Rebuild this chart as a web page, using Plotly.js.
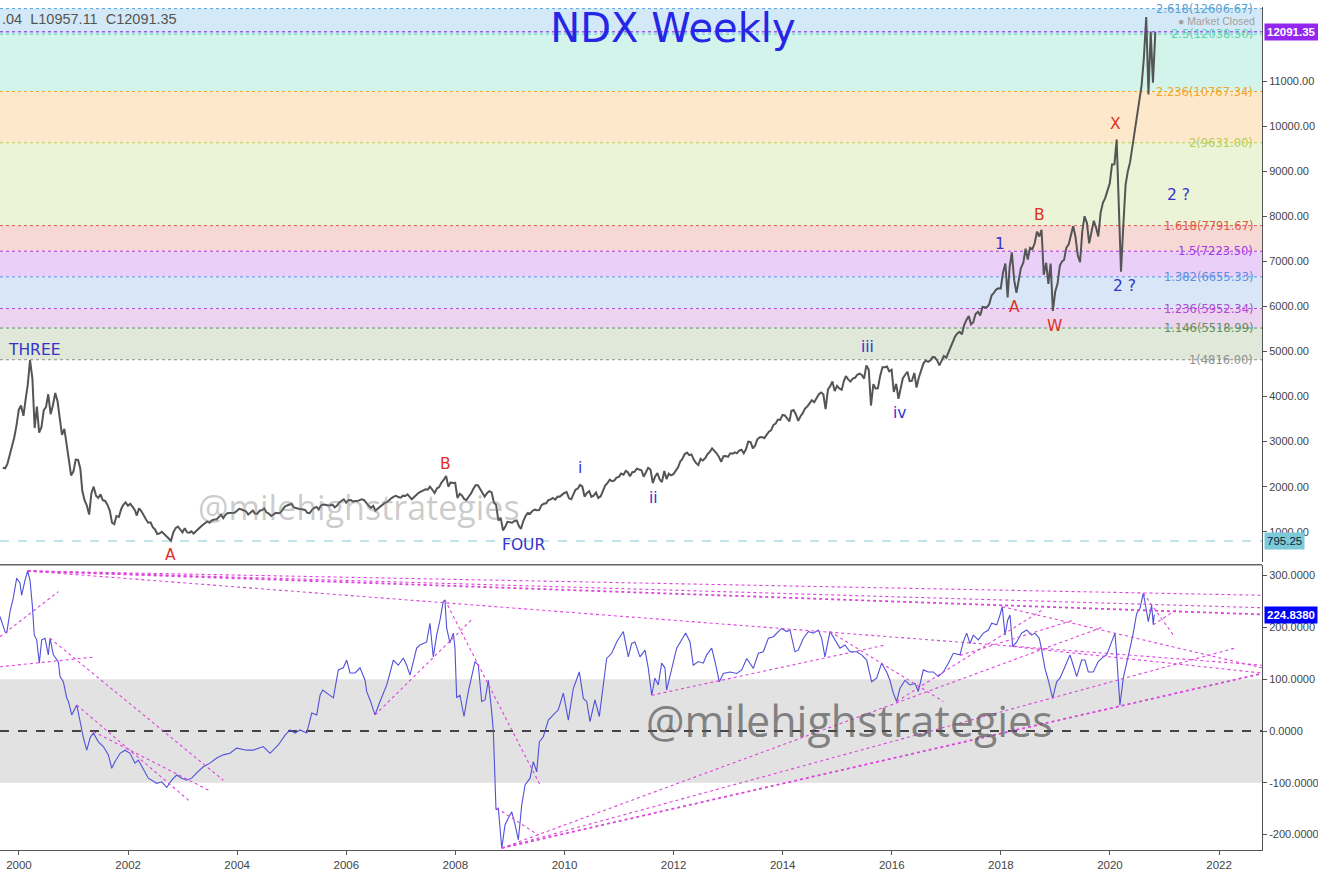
<!DOCTYPE html>
<html><head><meta charset="utf-8">
<script src="https://cdn.plot.ly/plotly-3.0.1.min.js"></script>
<style>html,body{margin:0;padding:0;background:#fff;}#chart{width:1318px;height:870px;}</style>
</head><body><div id="chart"></div>
<script>
// ---------- DATA ----------
// NDX weekly price, two readings per month (mid-month, month-end), Sep 1999 .. Oct 2020
const priceFirstMonth = [1999, 9];
const priceMid = [
 2420,2500,2950,3350,
 3800,3950,4810,3300,3200,3700,4050,3800,3900,3150,2950,2250,
 2600,2400,1700,1380,2000,1750,1700,1600,1200,1350,1500,1650,
 1620,1480,1520,1350,1200,1100,950,1000,900,800,1080,1050,
 1080,980,960,1050,1150,1230,1250,1270,1380,1380,1420,1420,
 1510,1480,1380,1470,1400,1480,1430,1350,1420,1420,1560,1610,
 1540,1510,1490,1420,1480,1550,1580,1600,1590,1540,1650,1720,
 1700,1670,1680,1720,1630,1530,1470,1560,1640,1710,1780,1770,
 1800,1830,1720,1820,1890,1940,2000,1860,1990,2150,2000,2080,
 1750,1800,1700,1850,2030,1950,1780,1900,1650,1250,1030,1220,
 1200,1250,1060,1350,1400,1490,1480,1620,1700,1750,1780,1820,
 1880,1720,1930,2040,1780,1900,1800,1750,1920,2080,2120,2200,
 2290,2350,2230,2330,2380,2220,2420,2080,2300,2100,2170,2250,
 2350,2560,2720,2700,2600,2480,2580,2720,2850,2740,2550,2680,
 2740,2760,2800,2740,3000,2850,3050,3100,3160,3250,3400,3480,
 3580,3450,3700,3460,3630,3780,3920,3950,4090,3720,4230,4120,
 4180,4350,4380,4400,4480,4480,4690,3800,4180,4450,4650,4560,
 4100,3950,4400,4550,4350,4200,4600,4800,4800,4870,4690,4900,
 4980,5250,5400,5380,5700,5600,5830,5800,5980,6050,6300,6400,
 6750,6200,7200,6300,6850,7280,7300,7400,7550,6700,6500,5900,
 6500,7000,7300,7600,7550,6980,8000,7400,7900,7550,8300,8550,
 9150,9700,6770,8700,9200,9900,10600,11500,10700,10960
];
const priceEnd = [
 2407,2708,3087,3708,
 3570,4266,4397,3774,3324,3763,3609,4078,3570,3283,2507,2341,
 2593,1908,1573,1855,1800,1830,1683,1469,1168,1329,1596,1577,
 1550,1359,1452,1277,1208,1051,963,942,832,990,1116,984,
 985,1009,1018,1106,1201,1201,1270,1323,1303,1415,1418,1468,
 1494,1454,1439,1398,1467,1517,1401,1380,1412,1485,1583,1621,
 1519,1504,1483,1411,1532,1493,1605,1581,1601,1579,1694,1645,
 1703,1682,1703,1700,1576,1575,1510,1593,1655,1747,1796,1756,
 1792,1774,1772,1864,1920,1934,1932,1964,2091,2239,2092,2085,
 1842,1728,1781,1949,2031,1838,1858,1874,1595,1304,1108,1212,
 1239,1136,1238,1418,1462,1477,1591,1631,1718,1711,1779,1860,
 1741,1826,1957,2005,1861,1776,1869,1787,2026,2154,2136,2218,
 2265,2324,2321,2400,2365,2317,2374,2227,2163,2349,2291,2278,
 2428,2616,2755,2715,2522,2616,2632,2772,2800,2660,2677,2661,
 2732,2739,2819,2829,2987,2910,3096,3076,3218,3371,3488,3592,
 3505,3683,3596,3563,3737,3849,3873,4052,4049,4158,4335,4236,
 4151,4455,4334,4415,4509,4397,4596,4274,4181,4648,4665,4593,
 4280,4202,4484,4342,4523,4418,4731,4771,4875,4801,4810,4863,
 5116,5330,5436,5584,5788,5647,5880,5988,5979,6248,6374,6397,
 6950,6856,6582,6605,6967,7040,7272,7660,7700,6967,6949,6330,
 6906,7032,7378,7781,7128,7671,7848,7692,7750,8084,8403,8733,
 9151,8462,7813,9000,9555,10157,10905,12420,12100,12091.35
];
const lastClose = 12091.35;
const lowMark = 795.25;

// Oscillator (decimal year, value)
const cciT = [1999.652,1999.743,1999.775,1999.835,1999.896,1999.958,2000.018,2000.049,2000.110,2000.159,2000.202,2000.244,2000.280,2000.324,2000.372,2000.416,2000.477,2000.537,2000.568,2000.629,2000.720,2000.752,2000.812,2000.874,2000.904,2000.966,2001.058,2001.118,2001.179,2001.241,2001.302,2001.362,2001.454,2001.545,2001.637,2001.699,2001.760,2001.852,2001.943,2002.035,2002.126,2002.187,2002.279,2002.370,2002.524,2002.616,2002.708,2002.799,2002.891,2002.983,2003.074,2003.166,2003.258,2003.379,2003.501,2003.624,2003.745,2003.868,2003.991,2004.174,2004.295,2004.478,2004.601,2004.753,2004.876,2004.968,2005.059,2005.151,2005.274,2005.366,2005.457,2005.518,2005.567,2005.641,2005.762,2005.853,2005.945,2006.007,2006.068,2006.160,2006.251,2006.343,2006.374,2006.435,2006.526,2006.618,2006.741,2006.801,2006.862,2006.953,2007.045,2007.107,2007.168,2007.290,2007.351,2007.474,2007.534,2007.595,2007.657,2007.718,2007.778,2007.809,2007.840,2007.901,2007.962,2007.993,2008.024,2008.084,2008.158,2008.237,2008.359,2008.420,2008.482,2008.543,2008.603,2008.665,2008.695,2008.744,2008.786,2008.849,2008.909,2008.970,2009.032,2009.093,2009.153,2009.215,2009.276,2009.368,2009.428,2009.490,2009.538,2009.611,2009.703,2009.795,2009.886,2009.978,2010.070,2010.161,2010.271,2010.345,2010.407,2010.467,2010.559,2010.638,2010.711,2010.773,2010.865,2010.957,2011.078,2011.170,2011.232,2011.292,2011.384,2011.476,2011.536,2011.599,2011.659,2011.720,2011.782,2011.842,2011.873,2011.965,2012.057,2012.149,2012.222,2012.301,2012.361,2012.453,2012.544,2012.606,2012.698,2012.759,2012.838,2012.911,2013.034,2013.157,2013.248,2013.340,2013.461,2013.553,2013.644,2013.736,2013.828,2013.919,2013.981,2014.073,2014.133,2014.225,2014.286,2014.378,2014.470,2014.561,2014.653,2014.715,2014.775,2014.867,2014.959,2015.050,2015.142,2015.234,2015.356,2015.448,2015.540,2015.631,2015.723,2015.815,2015.907,2015.967,2016.028,2016.090,2016.150,2016.242,2016.334,2016.425,2016.486,2016.578,2016.669,2016.761,2016.852,2016.944,2017.036,2017.127,2017.250,2017.310,2017.372,2017.433,2017.494,2017.585,2017.677,2017.769,2017.831,2017.923,2017.983,2018.025,2018.075,2018.124,2018.167,2018.216,2018.289,2018.381,2018.473,2018.564,2018.625,2018.704,2018.748,2018.808,2018.869,2018.949,2019.023,2019.083,2019.175,2019.267,2019.327,2019.390,2019.481,2019.542,2019.603,2019.694,2019.786,2019.878,2019.940,2020.000,2020.061,2020.092,2020.123,2020.183,2020.244,2020.306,2020.367,2020.427,2020.489,2020.550,2020.611,2020.660,2020.702,2020.763,2020.793,2020.811];
const cciV = [221,192,189,230,257,295,286,262,291,309,291,243,185,176,131,176,179,147,179,147,134,105,95,64,57,31,50,18,-13,-37,-13,-4,-21,-30,-46,-72,-59,-43,-37,-43,-62,-56,-75,-91,-101,-98,-109,-95,-85,-91,-95,-91,-81,-69,-62,-52,-46,-43,-33,-37,-37,-30,-43,-27,-8,2,-4,2,-4,35,31,69,79,73,64,118,122,137,112,112,122,98,76,60,31,57,89,112,137,127,141,127,108,160,166,172,208,143,185,214,250,253,199,170,189,160,64,69,28,76,134,127,57,60,98,37,-1,-152,-149,-226,-181,-168,-156,-181,-210,-143,-104,-91,-59,-79,-21,-11,21,31,41,73,21,82,114,63,57,18,60,28,95,140,150,172,192,143,169,172,143,156,122,69,102,89,131,122,79,118,160,176,189,172,127,134,131,147,160,134,95,111,114,111,118,140,121,150,153,179,182,192,198,192,195,153,156,179,192,189,195,179,143,192,176,160,166,153,153,147,137,95,102,131,114,98,73,57,82,98,89,92,76,118,114,114,105,114,131,150,147,172,189,169,185,176,189,195,208,205,224,240,185,214,224,163,172,189,195,185,189,179,156,121,98,63,95,102,124,147,127,105,137,137,114,114,134,143,147,163,182,189,147,50,102,134,160,189,227,237,266,237,211,243,205,224.838];
const cciLast = 224.838;

// Fibonacci extension levels
const fibRatio = [1, 1.146, 1.236, 1.382, 1.5, 1.618, 2, 2.236, 2.5, 2.618];
const fibLevel = [4816.00, 5518.99, 5952.34, 6655.33, 7223.50, 7791.67, 9631.00, 10767.34, 12038.50, 12606.67];
const fibLineColor = ['#8f8f8f','#5f905f','#b24ad0','#5b8ee0','#a238e6','#e0584a','#b6cd55','#f2a52a','#5cd2b2','#5aa3d6'];
const fibBandColor = ['#dfe8d9','#ecd4f1','#d8e6f7','#ead0f8','#f6d9d5','#ebf4d6','#fde8cb','#d3f4ea','#d4e9f7'];

// Trend lines on oscillator (decimal year / value start -> end)
const tlT0 = [2000.159,2000.159,2000.159,2000.159,1999.652,1999.652,2000.568,2001.058,2001.362,2006.526,2007.809,2008.758,2008.849,2008.849,2008.849,2011.599,2014.867,2016.090,2017.250,2018.025,2018.216,2020.611,2020.793];
const tlV0 = [309,309,309,309,182,124,179,50,-1,31,253,-149,-226,-226,-226,69,192,57,146,240,163,266,205];
const tlT1 = [2022.787,2022.787,2022.787,2022.787,2000.720,2001.393,2003.745,2003.135,2003.471,2008.328,2009.551,2009.521,2022.787,2022.323,2019.878,2015.880,2016.944,2018.748,2019.327,2022.787,2022.787,2021.161,2021.253];
const tlV1 = [262,238,225,127,269,143,-95,-136,-114,218,-104,-201,111,161,201,166,57,233,214,122,112,185,237];
const tlBold = [2, 12];

// Elliott wave labels
const waveText = ['THREE','A','B','FOUR','i','ii','iii','iv','1','A','B','W','X','2 ?','2 ?'];
const waveT = [2000.275,2002.786,2007.828,2009.239,2010.284,2011.641,2015.564,2016.150,2017.983,2018.258,2018.717,2018.974,2020.110,2021.246,2020.275];
const waveV = [5032,483,2502,705,2413,1748,5098,3634,7383,5986,8027,5564,10046,8471,6451];
const waveIsRed = [0,1,1,0,0,0,0,0,0,1,1,1,1,0,0];

const topTicks = [1000,2000,3000,4000,5000,6000,7000,8000,9000,10000,11000];
const botTicks = [-200,-100,0,100,200,300];

// ---------- HELPERS ----------
function yd(t){
  const y = Math.floor(t);
  const a = Date.UTC(y,0,1), b = Date.UTC(y+1,0,1);
  return new Date(a + (t-y)*(b-a)).toISOString().slice(0,19).replace('T',' ');
}
function ds(y,m,d){ return new Date(Date.UTC(y,m,d)).toISOString().slice(0,10); }

const px = [], py = [];
for (let i = 0; i < priceMid.length; i++) {
  const mi = priceFirstMonth[0]*12 + (priceFirstMonth[1]-1) + i;
  const y = Math.floor(mi/12), m = mi % 12;
  px.push(ds(y,m,15)); py.push(priceMid[i]);
  px.push(ds(y,m+1,0)); py.push(priceEnd[i]);
}

const traces = [];
traces.push({x:px, y:py, type:'scatter', mode:'lines', line:{color:'#555555', width:2}, xaxis:'x', yaxis:'y', hoverinfo:'skip'});
traces.push({x:cciT.map(yd), y:cciV, type:'scatter', mode:'lines', line:{color:'#5151d9', width:1.1}, xaxis:'x', yaxis:'y2', hoverinfo:'skip'});
for (let i = 0; i < tlT0.length; i++) {
  const bold = tlBold.indexOf(i) >= 0;
  traces.push({x:[yd(tlT0[i]), yd(tlT1[i])], y:[tlV0[i], tlV1[i]], type:'scatter', mode:'lines',
    line:{color:'#dd44dd', width: bold ? 1.8 : 1.1, dash:'dot'}, xaxis:'x', yaxis:'y2', hoverinfo:'skip'});
}

const shapes = [];
for (let i = 0; i < fibBandColor.length; i++) {
  shapes.push({type:'rect', xref:'paper', x0:0, x1:1, yref:'y', y0:fibLevel[i], y1:fibLevel[i+1], fillcolor:fibBandColor[i], line:{width:0}, layer:'below'});
}
for (let i = 0; i < fibLevel.length; i++) {
  shapes.push({type:'line', xref:'paper', x0:0, x1:1, yref:'y', y0:fibLevel[i], y1:fibLevel[i], line:{color:fibLineColor[i], width:1, dash:'dot'}, layer:'below'});
}
shapes.push({type:'line', xref:'paper', x0:0, x1:1, yref:'y', y0:lastClose, y1:lastClose, line:{color:'#7a22d8', width:1, dash:'dot'}});
shapes.push({type:'line', xref:'paper', x0:0, x1:1, yref:'y', y0:lowMark, y1:lowMark, line:{color:'#86c8d6', width:1, dash:'dash'}, layer:'below'});
shapes.push({type:'rect', xref:'paper', x0:0, x1:1, yref:'y2', y0:-100, y1:100, fillcolor:'#e2e2e2', line:{width:0}, layer:'below'});
shapes.push({type:'line', xref:'paper', x0:0, x1:1, yref:'y2', y0:0, y1:0, line:{color:'#111', width:1.3, dash:'dash'}, layer:'below'});
shapes.push({type:'line', xref:'paper', x0:0, x1:1, yref:'paper', y0:0.3385, y1:0.3385, line:{color:'#666', width:1.5}});

const annotations = [];
for (let i = 0; i < fibLevel.length; i++) {
  annotations.push({xref:'paper', x:0.9945, xanchor:'right', yref:'y', y:fibLevel[i], yanchor:'middle',
    text: fibRatio[i] + '(' + fibLevel[i].toFixed(2) + ')', showarrow:false,
    font:{family:'DejaVu Sans', size:11.5, color:fibLineColor[i]}});
}
for (let i = 0; i < waveText.length; i++) {
  annotations.push({xref:'x', x:yd(waveT[i]), yref:'y', y:waveV[i], text:waveText[i], showarrow:false,
    xanchor:'center', yanchor:'middle', font:{family:'DejaVu Sans', size:15.5, color: waveIsRed[i] ? '#e2301f' : '#3434cc'}});
}
annotations.push({xref:'paper', x:0, xanchor:'left', yref:'paper', y:0.9858, yanchor:'middle', showarrow:false,
  text:'.04  L10957.11  C12091.35', font:{family:'Liberation Sans', size:14.5, color:'#555'}});
annotations.push({xref:'paper', x:0.996, xanchor:'right', yref:'paper', y:0.9835, yanchor:'middle', showarrow:false,
  text:'● Market Closed', font:{family:'Liberation Sans', size:10.5, color:'#a0a0a0'}});
annotations.push({xref:'paper', x:0.2845, xanchor:'center', yref:'paper', y:0.4069, yanchor:'middle', showarrow:false,
  text:'@milehighstrategies', font:{family:'Open Sans', size:34, color:'rgba(120,120,120,0.38)'}});
annotations.push({xref:'paper', x:0.6735, xanchor:'center', yref:'paper', y:0.1542, yanchor:'middle', showarrow:false,
  text:'@milehighstrategies', font:{family:'Open Sans', size:43, color:'rgba(85,85,85,0.7)'}});
annotations.push({xref:'paper', x:1, xshift:2, xanchor:'left', yref:'y', y:lastClose, yanchor:'middle', showarrow:false,
  text:'<b>' + lastClose.toFixed(2) + '</b>', bgcolor:'#9326ef', borderpad:2, font:{family:'Liberation Sans', size:11.5, color:'#fff'}});
annotations.push({xref:'paper', x:1, xshift:2, xanchor:'left', yref:'y', y:lowMark, yanchor:'middle', showarrow:false,
  text:lowMark.toFixed(2), bgcolor:'#7ccad8', borderpad:2, font:{family:'Liberation Sans', size:11.5, color:'#123'}});
annotations.push({xref:'paper', x:1, xshift:2, xanchor:'left', yref:'y2', y:cciLast, yanchor:'middle', showarrow:false,
  text:'<b>' + cciLast.toFixed(4) + '</b>', bgcolor:'#0000ff', borderpad:2, font:{family:'Liberation Sans', size:11.5, color:'#fff'}});

const axisFont = {family:'Liberation Sans', size:11, color:'#444'};
const layout = {
  width:1318, height:870,
  margin:{l:0, r:56, t:7, b:20},
  paper_bgcolor:'#ffffff', plot_bgcolor:'#ffffff',
  showlegend:false,
  title:{text:'NDX Weekly', x:0.5106, xref:'container', xanchor:'center', y:0.968, yref:'container', yanchor:'middle',
    font:{family:'DejaVu Sans', size:40, color:'#2626e6'}},
  xaxis:{type:'date', range:[yd(1999.652), yd(2022.787)], anchor:'y2', tick0:'2000-01-01', dtick:'M24', tickformat:'%Y',
    ticks:'outside', ticklen:4, tickcolor:'#555', showline:true, linecolor:'#555', linewidth:1, showgrid:false, zeroline:false,
    tickfont:{family:'Liberation Sans', size:11.5, color:'#444'}},
  yaxis:{domain:[0.3416, 1], range:[328, 12642], side:'right', anchor:'x', tickvals:topTicks, ticktext:topTicks.map(v=>v.toFixed(2)),
    ticks:'outside', ticklen:4, tickcolor:'#555', showline:true, linecolor:'#555', showgrid:false, zeroline:false, tickfont:axisFont},
  yaxis2:{domain:[0, 0.3381], range:[-229.7, 320.5], side:'right', anchor:'x', tickvals:botTicks, ticktext:botTicks.map(v=>v.toFixed(4)),
    ticks:'outside', ticklen:4, tickcolor:'#555', showline:true, linecolor:'#555', showgrid:false, zeroline:false, tickfont:axisFont},
  shapes:shapes,
  annotations:annotations
};
Plotly.newPlot('chart', traces, layout, {displayModeBar:false, staticPlot:true});
</script></body></html>
